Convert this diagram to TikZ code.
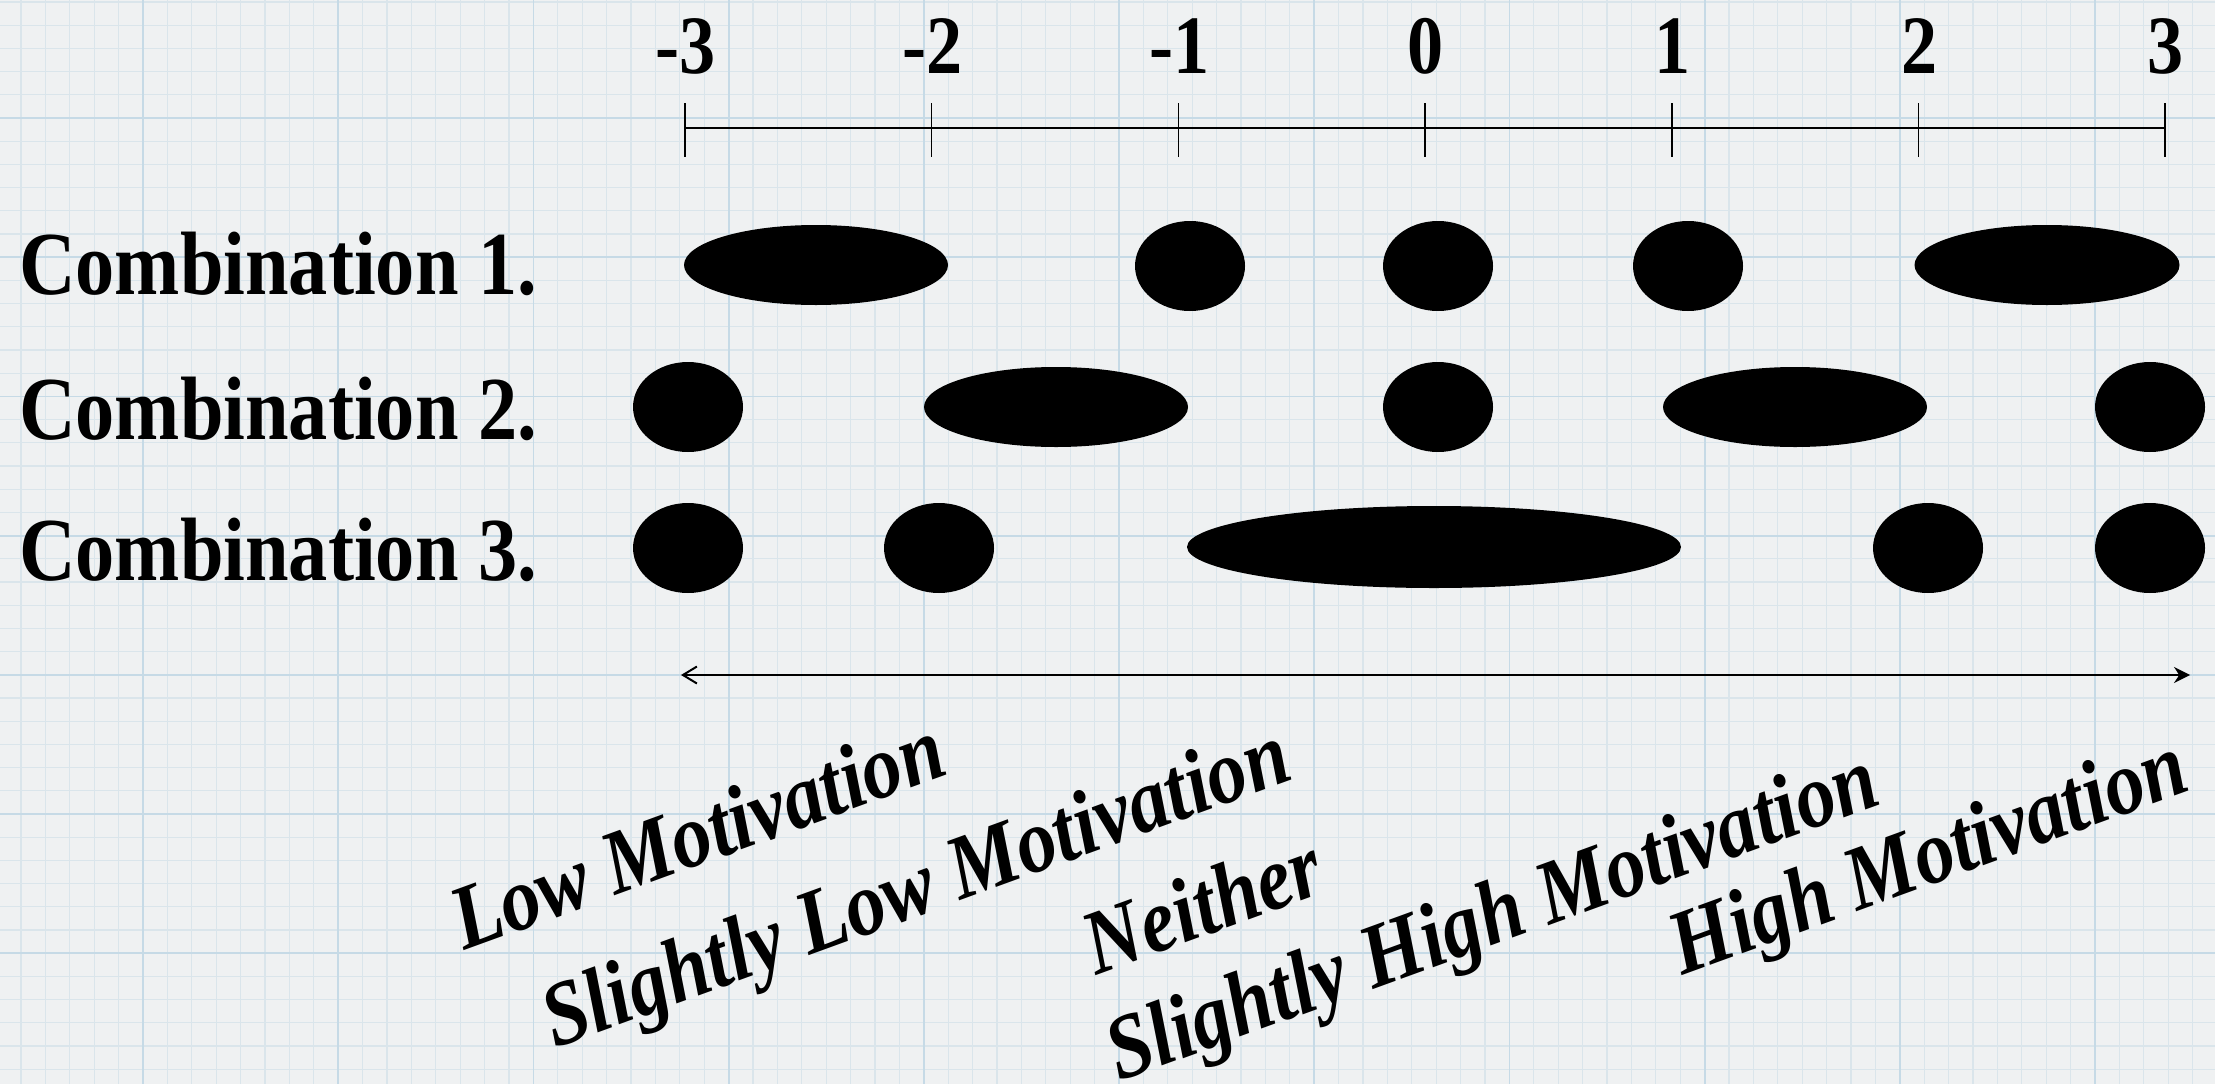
\documentclass[tikz,border=0pt]{standalone}
\usepackage{fontspec}
\setmainfont{Liberation Serif}[FakeStretch=0.87]
\usetikzlibrary{shapes.geometric, arrows.meta, positioning}
\definecolor{papel}{HTML}{EFF1F2}
\definecolor{rejilla}{HTML}{DAE5EB}
\definecolor{rejillaf}{HTML}{C6DAE6}

\begin{document}
\begin{tikzpicture}[x=1pt, y=-1pt,
        dot/.style={ellipse, fill=black, inner sep=0pt, minimum width=110pt, minimum height=90pt},
        bar/.style={ellipse, fill=black, inner sep=0pt, minimum height=80pt},
        combo/.style={anchor=base west, inner sep=0pt, font=\fontsize{90}{100}\selectfont\bfseries},
        num/.style={anchor=base, inner sep=0pt, font=\fontsize{83}{90}\selectfont\bfseries},
        nivel/.style={rotate=20, inner sep=0pt, font=\fontsize{91}{100}\selectfont\bfseries\itshape}]
    \useasboundingbox (0,0) rectangle (2215,1084);
    \clip (0,0) rectangle (2215,1084);
    % papel cuadriculado
    \fill[papel] (0,0) rectangle (2215,1084);
    \foreach \i in {-6,...,85} \draw[rejilla, line width=1.3pt] ({143+24.4*\i},0) -- ++(0,1084);
    \foreach \j in {-6,...,42} \draw[rejilla, line width=1.3pt] (0,{118+23.2*\j}) -- ++(2215,0);
    \foreach \i in {-1,...,11} \draw[rejillaf, line width=1.8pt] ({143+195.2*\i},0) -- ++(0,1084);
    \foreach \j in {-1,...,7} \draw[rejillaf, line width=1.8pt] (0,{118+139.2*\j}) -- ++(2215,0);

    % escala
    \coordinate (e0) at (685,128);
    \coordinate (e6) at (2165,128);
    \draw[line width=2pt] (e0) -- (e6);
    \foreach \k/\t in {0/-3, 1/-2, 2/-1, 3/0, 4/1, 5/2, 6/3} {
        \draw[line width=1.6pt] ({685+246.67*\k},103) -- ({685+246.67*\k},157);
        \node[num] (n\k) at ({686+246.67*\k},73) {\t};
    }

    % combinaciones
    \node[combo] (c1) at (19,294) {Combination 1.};
    \node[combo] (c2) at (19,439) {Combination 2.};
    \node[combo] (c3) at (19,580) {Combination 3.};

    \node[bar, minimum width=264pt] (r1a) at (816,265) {};
    \node[dot] (r1b) at (1190,266) {};
    \node[dot] (r1c) at (1438,266) {};
    \node[dot] (r1d) at (1688,266) {};
    \node[bar, minimum width=265pt] (r1e) at (2047,265) {};

    \node[dot] (r2a) at (688,407) {};
    \node[bar, minimum width=264pt] (r2b) at (1056,407) {};
    \node[dot] (r2c) at (1438,407) {};
    \node[bar, minimum width=264pt] (r2d) at (1795,407) {};
    \node[dot] (r2e) at (2150,407) {};

    \node[dot] (r3a) at (688,548) {};
    \node[dot] (r3b) at (939,548) {};
    \node[bar, minimum width=494pt, minimum height=82pt] (r3c) at (1434,547) {};
    \node[dot] (r3d) at (1928,548) {};
    \node[dot] (r3e) at (2150,548) {};

    % flecha y niveles
    \coordinate (izq) at (681,675);
    \coordinate (der) at (2190,675);
    \draw[line width=2pt, {Straight Barb[length=14pt, width=17pt]}-{Stealth[length=16pt, width=16pt]}] (izq) -- (der);

    \node[nivel] (l1) at (697,833) {Low Motivation};
    \node[nivel] (l2) at (918,893) {Slightly Low Motivation};
    \node[nivel] (l3) at (1202,904) {Neither};
    \node[nivel] (l4) at (1494,922) {Slightly High Motivation};
    \node[nivel] (l5) at (1930,862) {High Motivation};
\end{tikzpicture}
\end{document}
